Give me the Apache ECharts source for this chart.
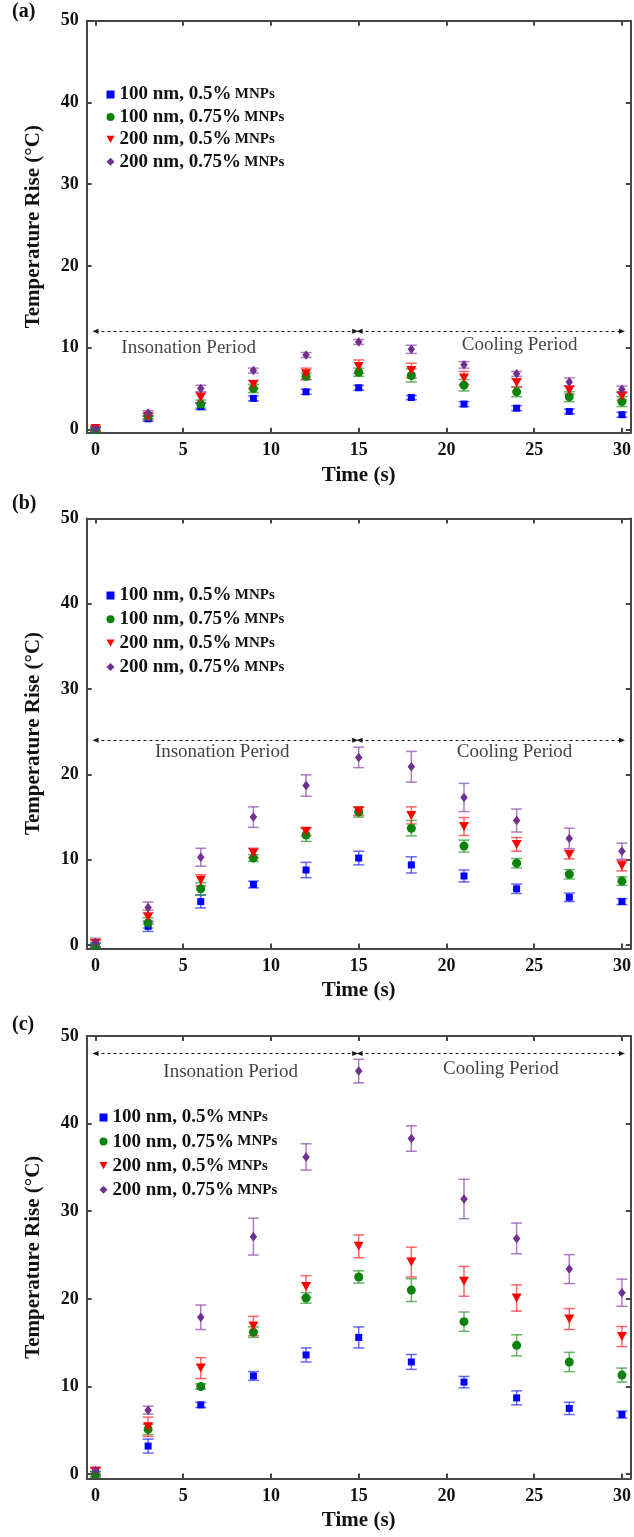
<!DOCTYPE html>
<html>
<head>
<meta charset="utf-8">
<script src="https://cdn.jsdelivr.net/npm/echarts@6/dist/echarts.min.js"></script>
<style>
html,body{margin:0;padding:0;background:#fff;}
#chart{width:634px;height:1537px;}
</style>
</head>
<body>
<div id="chart"></div>
<script>
// ---------- data ----------
const times = [0, 3, 6, 9, 12, 15, 18, 21, 24, 27, 30];
const seriesNames = ['100 nm, 0.5% MNPs', '100 nm, 0.75% MNPs', '200 nm, 0.5% MNPs', '200 nm, 0.75% MNPs'];
const panelLabels = ['(a)', '(b)', '(c)'];
const xTicks = [0, 5, 10, 15, 20, 25, 30];
const yTicks = [0, 10, 20, 30, 40, 50];

// panel (a)
const a_100_05      = [0.0, 1.3, 2.8, 3.8, 4.6, 5.1, 3.9, 3.1, 2.6, 2.2, 1.8];
const a_100_05_err  = [0.2, 0.3, 0.4, 0.3, 0.3, 0.3, 0.25, 0.3, 0.3, 0.3, 0.3];
const a_100_075     = [0.0, 1.6, 3.1, 5.0, 6.5, 7.0, 6.6, 5.4, 4.6, 4.0, 3.4];
const a_100_075_err = [0.2, 0.3, 0.5, 0.5, 0.4, 0.5, 0.8, 0.7, 0.6, 0.6, 0.6];
const a_200_05      = [0.1, 1.6, 3.9, 5.5, 6.8, 7.7, 7.2, 6.3, 5.7, 4.8, 4.1];
const a_200_05_err  = [0.3, 0.4, 0.6, 0.5, 0.7, 0.8, 0.9, 0.8, 0.5, 0.5, 0.5];
const a_200_075     = [0.1, 2.0, 5.0, 7.2, 9.1, 10.7, 9.8, 7.9, 6.8, 5.8, 4.9];
const a_200_075_err = [0.2, 0.3, 0.4, 0.3, 0.3, 0.3, 0.5, 0.4, 0.3, 0.5, 0.4];

// panel (b)
const b_100_05      = [0.0, 2.2, 5.1, 7.1, 8.8, 10.2, 9.4, 8.1, 6.6, 5.6, 5.1];
const b_100_05_err  = [0.2, 0.6, 0.75, 0.4, 0.9, 0.8, 0.95, 0.7, 0.55, 0.5, 0.35];
const b_100_075     = [0.0, 2.6, 6.6, 10.2, 12.9, 15.6, 13.7, 11.6, 9.6, 8.3, 7.5];
const b_100_075_err = [0.3, 0.6, 0.7, 0.4, 0.75, 0.6, 0.9, 0.7, 0.55, 0.55, 0.5];
const b_200_05      = [0.2, 3.3, 7.6, 10.8, 13.3, 15.7, 15.2, 13.9, 11.8, 10.6, 9.3];
const b_200_05_err  = [0.4, 0.8, 0.65, 0.55, 0.5, 0.5, 1.0, 1.05, 0.8, 0.5, 0.6];
const b_200_075     = [0.3, 4.4, 10.3, 15.0, 18.7, 22.0, 20.9, 17.3, 14.6, 12.5, 11.0];
const b_200_075_err = [0.5, 0.65, 1.05, 1.2, 1.25, 1.2, 1.8, 1.65, 1.35, 1.2, 0.95];

// panel (c)
const c_100_05      = [0.0, 3.2, 7.9, 11.2, 13.6, 15.6, 12.8, 10.5, 8.7, 7.5, 6.8];
const c_100_05_err  = [0.3, 0.8, 0.3, 0.5, 0.8, 1.2, 0.85, 0.65, 0.8, 0.7, 0.4];
const c_100_075     = [0.0, 5.1, 10.0, 16.2, 20.1, 22.5, 21.0, 17.4, 14.7, 12.8, 11.3];
const c_100_075_err = [0.3, 0.6, 0.3, 0.6, 0.6, 0.7, 1.3, 1.1, 1.2, 1.1, 0.8];
const c_200_05      = [0.3, 5.4, 12.1, 16.9, 21.4, 26.0, 24.2, 22.0, 20.1, 17.7, 15.7];
const c_200_05_err  = [0.4, 1.1, 1.2, 1.1, 1.25, 1.3, 1.7, 1.7, 1.5, 1.2, 1.15];
const c_200_075     = [0.4, 7.3, 17.9, 27.1, 36.2, 46.0, 38.3, 31.4, 26.9, 23.4, 20.7];
const c_200_075_err = [0.4, 0.45, 1.4, 2.1, 1.5, 1.35, 1.45, 2.25, 1.75, 1.65, 1.55];

// annotations: arrow height, text positions [x, y]
const arrowY          = [12, 24, 48];
const insonationRange = [0, 14.8];
const coolingRange    = [15.05, 30];
const insonationText  = [[5.31, 10.0], [7.22, 22.66], [7.7, 45.9]];
const coolingText     = [[24.17, 10.3], [23.88, 22.66], [23.1, 46.2]];

const panelValues = [
  [a_100_05, a_100_075, a_200_05, a_200_075],
  [b_100_05, b_100_075, b_200_05, b_200_075],
  [c_100_05, c_100_075, c_200_05, c_200_075]
];
const panelErrors = [
  [a_100_05_err, a_100_075_err, a_200_05_err, a_200_075_err],
  [b_100_05_err, b_100_075_err, b_200_05_err, b_200_075_err],
  [c_100_05_err, c_100_075_err, c_200_05_err, c_200_075_err]
];

// ---------- style ----------
const FONT = 'Liberation Serif';
const colors = ['#0000ff', '#0b820b', '#ff0000', '#70308f'];
const barColors = ['rgba(40,40,255,0.7)', 'rgba(40,150,40,0.7)', 'rgba(255,40,40,0.7)', 'rgba(140,70,170,0.7)'];
const symbols = ['rect', 'circle', 'path://M0,0 L10,0 L5,9 Z', 'diamond'];
const symbolSizes = [[7, 7], [9, 9], [10, 9], [7.5, 9.5]];

const grids = [
  { left: 86.7, top: 20.7, width: 544, height: 412 },
  { left: 86.7, top: 518.5, width: 544, height: 430 },
  { left: 86.7, top: 1036, width: 544, height: 442.5 }
];
const yMins = [-0.4, -0.4, -0.5];
const legendPos = [
  { left: 101.5, top: 80, gap: 3.4 },
  { left: 101.5, top: 581, gap: 4.8 },
  { left: 94.5, top: 1103, gap: 5.1 }
];
const panelLabelY = [13, 505, 1026];
const axisColor = '#474747';

const xAxes = [], yAxes = [], series = [], legends = [], graphics = [];

grids.forEach((g, p) => {
  // bottom & top x axes
  xAxes.push({
    gridIndex: p, type: 'value', min: -0.5, max: 30.5, position: 'bottom',
    axisLine: { show: true, onZero: false, lineStyle: { color: axisColor, width: 2 } },
    axisTick: { show: true, inside: true, length: 5, customValues: xTicks, lineStyle: { color: axisColor, width: 2 } },
    axisLabel: { show: true, customValues: xTicks, margin: 9, color: '#111', fontFamily: FONT, fontWeight: 'bold', fontSize: 18 },
    splitLine: { show: false },
    name: 'Time (s)', nameLocation: 'middle', nameGap: 32,
    nameTextStyle: { color: '#111', fontFamily: FONT, fontWeight: 'bold', fontSize: 21 }
  });
  xAxes.push({
    gridIndex: p, type: 'value', min: -0.5, max: 30.5, position: 'top',
    axisLine: { show: true, onZero: false, lineStyle: { color: axisColor, width: 2 } },
    axisTick: { show: true, inside: true, length: 5, customValues: xTicks, lineStyle: { color: axisColor, width: 2 } },
    axisLabel: { show: false }, splitLine: { show: false }
  });
  yAxes.push({
    gridIndex: p, type: 'value', min: yMins[p], max: 50, position: 'left',
    axisLine: { show: true, onZero: false, lineStyle: { color: axisColor, width: 2 } },
    axisTick: { show: true, inside: true, length: 5, customValues: yTicks, lineStyle: { color: axisColor, width: 2 } },
    axisLabel: { show: true, customValues: yTicks, margin: 8, color: '#111', fontFamily: FONT, fontWeight: 'bold', fontSize: 18 },
    splitLine: { show: false },
    name: 'Temperature Rise (°C)', nameLocation: 'middle', nameGap: 43,
    nameTextStyle: { color: '#111', fontFamily: FONT, fontWeight: 'bold', fontSize: 21 }
  });
  yAxes.push({
    gridIndex: p, type: 'value', min: yMins[p], max: 50, position: 'right',
    axisLine: { show: true, onZero: false, lineStyle: { color: axisColor, width: 2 } },
    axisTick: { show: true, inside: true, length: 5, customValues: yTicks, lineStyle: { color: axisColor, width: 2 } },
    axisLabel: { show: false }, splitLine: { show: false }
  });

  const xi = p * 2, yi = p * 2;

  // error bars
  seriesNames.forEach((name, s) => {
    const vals = panelValues[p][s], errs = panelErrors[p][s];
    const col = barColors[s];
    series.push({
      type: 'custom', xAxisIndex: xi, yAxisIndex: yi, silent: true, z: 2,
      data: times.map((t, i) => [t, vals[i], errs[i]]),
      renderItem: function (params, api) {
        const x = api.value(0), y = api.value(1), e = api.value(2);
        const top = api.coord([x, y + e]);
        const bot = api.coord([x, y - e]);
        const w = 5.5;
        const st = { stroke: col, lineWidth: 1.5 };
        return {
          type: 'group',
          children: [
            { type: 'line', shape: { x1: top[0], y1: top[1], x2: bot[0], y2: bot[1] }, style: st },
            { type: 'line', shape: { x1: top[0] - w, y1: top[1], x2: top[0] + w, y2: top[1] }, style: st },
            { type: 'line', shape: { x1: bot[0] - w, y1: bot[1], x2: bot[0] + w, y2: bot[1] }, style: st }
          ]
        };
      }
    });
  });

  // markers
  seriesNames.forEach((name, s) => {
    const vals = panelValues[p][s];
    series.push({
      name: name, type: 'scatter', xAxisIndex: xi, yAxisIndex: yi, z: 3 + s,
      symbol: symbols[s], symbolSize: symbolSizes[s],
      itemStyle: { color: colors[s], opacity: 1 },
      data: times.map((t, i) => [t, vals[i]])
    });
  });

  // annotations: arrows + text
  series.push({
    type: 'scatter', xAxisIndex: xi, yAxisIndex: yi, silent: true, z: 10,
    symbolSize: 0,
    data: [
      [insonationText[p][0], insonationText[p][1], 'Insonation Period'],
      [coolingText[p][0], coolingText[p][1], 'Cooling Period']
    ],
    label: {
      show: true, position: 'inside', formatter: (d) => d.value[2],
      color: '#111', fontFamily: FONT, fontSize: 19
    },
    markLine: {
      silent: true,
      symbol: ['path://M5,0 L10,10 L0,10 Z', 'path://M5,0 L10,10 L0,10 Z'],
      symbolSize: [5, 6],
      lineStyle: { type: [3, 3], color: '#111', width: 1 },
      label: { show: false },
      data: [
        [{ coord: [insonationRange[0], arrowY[p]] }, { coord: [insonationRange[1], arrowY[p]] }],
        [{ coord: [coolingRange[0], arrowY[p]] }, { coord: [coolingRange[1], arrowY[p]] }]
      ]
    }
  });

  legends.push({
    orient: 'vertical', left: legendPos[p].left, top: legendPos[p].top,
    itemGap: legendPos[p].gap, itemWidth: 8, itemHeight: 8,
    data: seriesNames.map((n, s) => ({ name: n, icon: symbols[s], itemStyle: { color: colors[s] } })),
    selectedMode: false,
    formatter: (name) => '{a|' + name.replace(' MNPs', '') + '} {b|MNPs}',
    textStyle: {
      rich: {
        a: { fontFamily: FONT, fontWeight: 'bold', fontSize: 19, color: '#111', lineHeight: 20 },
        b: { fontFamily: FONT, fontWeight: 'bold', fontSize: 15, color: '#111', lineHeight: 20 }
      }
    }
  });

  graphics.push({
    type: 'text', left: 12, top: panelLabelY[p] - 11,
    style: { text: panelLabels[p], font: 'bold 20px "Liberation Serif"', fill: '#111' }
  });
});

const chart = echarts.init(document.getElementById('chart'), null, { renderer: 'canvas' });
chart.setOption({
  backgroundColor: '#ffffff',
  animation: false,
  grid: grids.map(g => Object.assign({ containLabel: false }, g)),
  xAxis: xAxes,
  yAxis: yAxes,
  legend: legends,
  series: series,
  graphic: graphics
});
</script>
</body>
</html>
